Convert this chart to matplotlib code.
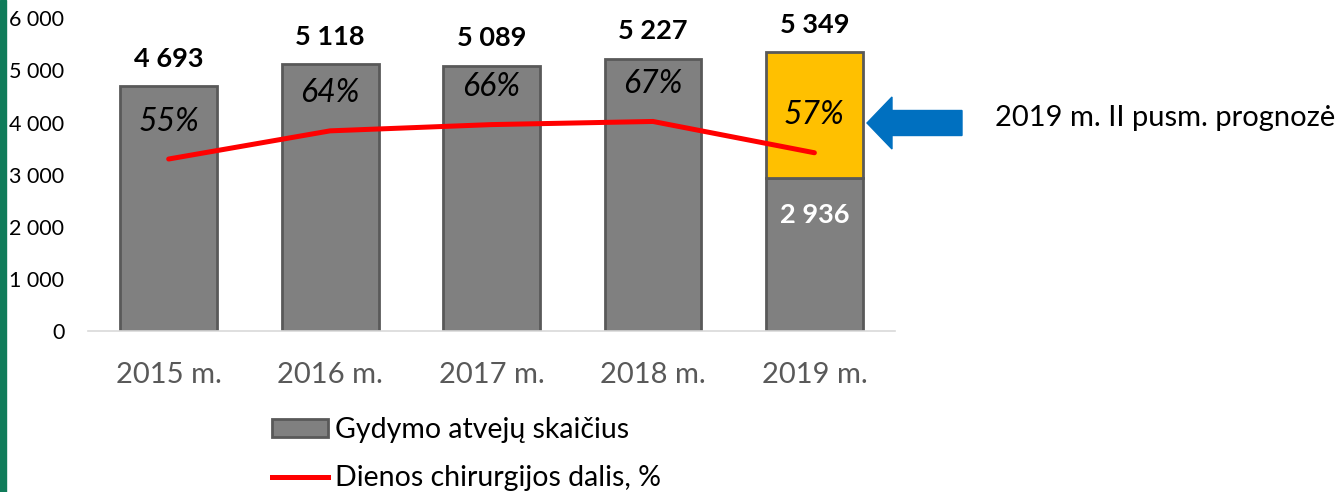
import matplotlib.pyplot as plt
from matplotlib.patches import FancyArrow, Rectangle
from matplotlib.lines import Line2D

plt.rcParams["font.family"] = ["Lato", "DejaVu Sans"]

years = ["2015 m.", "2016 m.", "2017 m.", "2018 m.", "2019 m."]
cases = [4693, 5118, 5089, 5227, 2936]
forecast_extra = [0, 0, 0, 0, 2413]  # 2019 H2 forecast, total 5 349
totals = [4693, 5118, 5089, 5227, 5349]
day_surgery_pct = [55, 64, 66, 67, 57]
y_ticks = [0, 1000, 2000, 3000, 4000, 5000, 6000]

GREY = "#808080"
EDGE = "#595959"
YELLOW = "#FFC000"
RED = "#FF0000"
BLUE = "#0070C0"


def fmt(v):
    return f"{v:,}".replace(",", " ")


fig = plt.figure(figsize=(13.43, 4.92), dpi=100)
ax = fig.add_axes([0.0655, 0.327, 0.601, 0.636])
x = list(range(len(years)))

ax.bar(x, cases, width=0.6, color=GREY, edgecolor=EDGE, linewidth=2, zorder=2)
ax.bar(x, forecast_extra, bottom=cases, width=0.6, color=YELLOW,
       edgecolor=EDGE, linewidth=2, zorder=2)
# hide the empty stacked segments
for p, v in zip(ax.patches[len(x):], forecast_extra):
    if v == 0:
        p.set_visible(False)

ax.set_xlim(-0.5, len(years) - 0.5)
ax.set_ylim(0, 6000)
ax.set_yticks(y_ticks)
ax.set_yticklabels([fmt(t) for t in y_ticks], fontsize=15.5)
ax.set_xticks(x)
ax.set_xticklabels(years, fontsize=21, color=EDGE)
ax.tick_params(axis="both", length=0)
ax.tick_params(axis="x", pad=22)
ax.tick_params(axis="y", pad=17)
for s in ["top", "right", "left"]:
    ax.spines[s].set_visible(False)
ax.spines["bottom"].set_color("#D9D9D9")
ax.spines["bottom"].set_linewidth(1.2)

for xi, t in zip(x, totals):
    ax.annotate(fmt(t), (xi, t), xytext=(0, 11), textcoords="offset points",
                ha="center", va="bottom", fontsize=19.5, fontweight="bold")
ax.annotate(fmt(cases[-1]), (x[-1], cases[-1]), xytext=(0, -27),
            textcoords="offset points", ha="center", va="center",
            fontsize=19.5, fontweight="bold", color="white", zorder=4)

ax2 = ax.twinx()
ax2.set_ylim(0, 100)
ax2.axis("off")
ax2.plot(x, day_surgery_pct, color=RED, linewidth=3.6,
         solid_capstyle="round", zorder=3)
for xi, p in zip(x, day_surgery_pct):
    ax2.annotate(f"{p}%", (xi, p), xytext=(0, 27), textcoords="offset points",
                 ha="center", va="center", fontsize=23, fontstyle="italic")

# arrow + note
fig.patches.append(FancyArrow(962 / 1343, 1 - 123 / 492, -70 / 1343, 0,
                              width=25 / 492, head_width=52 / 492,
                              head_length=25 / 1343, length_includes_head=False,
                              color=BLUE, transform=fig.transFigure))
fig.text(995 / 1343, 1 - 118 / 492, "2019 m. II pusm. prognozė",
         fontsize=21, va="center", ha="left")

# green stripe on the left edge
fig.patches.append(Rectangle((0, 0), 6 / 1343, 1, color="#107C5A",
                             transform=fig.transFigure))

handles = [Rectangle((0, 0), 1, 1, facecolor=GREY, edgecolor=EDGE, linewidth=2),
           Line2D([0], [0], color=RED, linewidth=3.6)]
fig.legend(handles, ["Gydymo atvejų skaičius", "Dienos chirurgijos dalis, %"],
           loc="upper left", bbox_to_anchor=(272 / 1343, 1 - 417 / 492),
           frameon=False, fontsize=20.5, handlelength=1.95, handleheight=0.6,
           handletextpad=0.25, labelspacing=0.78, borderaxespad=0,
           borderpad=0)

fig.savefig("out.png", dpi=100)
